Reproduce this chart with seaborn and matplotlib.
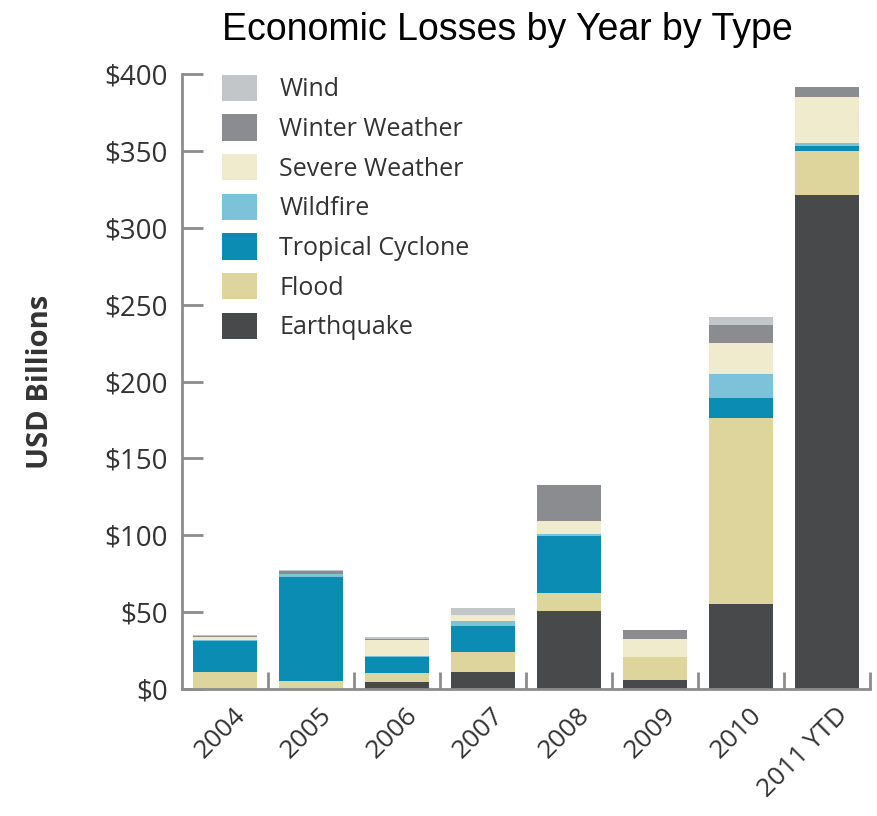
import matplotlib
matplotlib.use("Agg")
import matplotlib.pyplot as plt
from matplotlib.patches import Patch
from matplotlib.ticker import FixedLocator, FuncFormatter
import matplotlib.transforms as mtransforms
import numpy as np
import pandas as pd
import seaborn as sns

years = ['2004', '2005', '2006', '2007', '2008', '2009', '2010', '2011 YTD']
earthquake = [0, 0, 4.5, 11, 51, 6, 55, 321]
flood = [11, 5, 6, 13, 11.5, 15, 121, 29]
tropical_cyclone = [20, 68, 10.5, 17, 37, 0, 13, 3]
wildfire = [1, 1.5, 0.5, 3, 1, 0, 16, 2]
severe_weather = [2, 0.5, 10.5, 4, 9, 11.5, 20, 30]
winter_weather = [0.5, 2, 0.5, 0, 23.5, 6, 11.5, 6.5]
wind = [0.5, 0.5, 1.5, 5, 0, 0, 5.5, 0]

series_names = ['Earthquake', 'Flood', 'Tropical Cyclone', 'Wildfire',
                'Severe Weather', 'Winter Weather', 'Wind']
series_values = [earthquake, flood, tropical_cyclone, wildfire,
                 severe_weather, winter_weather, wind]
colors = {
    'Earthquake': '#48494b',
    'Flood': '#ddd59b',
    'Tropical Cyclone': '#0b8cb3',
    'Wildfire': '#7cc3d9',
    'Severe Weather': '#efebcc',
    'Winter Weather': '#8a8c8f',
    'Wind': '#c3c6c8',
}
y_ticks = [0, 50, 100, 150, 200, 250, 300, 350, 400]

df = pd.DataFrame({'Year': years})
for name, vals in zip(series_names, series_values):
    df[name] = vals
cum = df[series_names].cumsum(axis=1)

sns.set_style('white')
plt.rcParams['font.family'] = ['Open Sans', 'DejaVu Sans']

fig = plt.figure(figsize=(8.78, 8.16), dpi=100)
ax = fig.add_axes([182/878, (816-689)/816, (870-182)/878, (689-74)/816])

# draw cumulative bars from top layer down so lower layers overlap
for name in reversed(series_names):
    sns.barplot(x=df['Year'], y=cum[name], color=colors[name], saturation=1,
                width=0.74, errorbar=None, linewidth=0, ax=ax)

ax.set_xlim(-0.5, 7.5)
ax.set_ylim(0, 400)
ax.set_xlabel('')
ax.set_ylabel('USD Billions', fontsize=21, fontweight='bold', color='#333333', labelpad=36)

ax.yaxis.set_major_locator(FixedLocator(y_ticks))
ax.yaxis.set_major_formatter(FuncFormatter(lambda v, p: f'${int(v)}'))
ax.tick_params(axis='y', direction='in', length=15, width=2, color='#8c8c8c',
               labelsize=20, labelcolor='#333333', pad=10, left=True)

ax.set_xticks(range(len(years)))
ax.set_xticklabels(years, rotation=45, ha='right', rotation_mode='anchor')
ax.tick_params(axis='x', which='major', length=0, labelsize=19, labelcolor='#333333', pad=10)
ax.xaxis.set_minor_locator(FixedLocator(np.arange(0.5, len(years), 1.0)))
ax.tick_params(axis='x', which='minor', direction='in', length=12, width=2,
               color='#8c8c8c', bottom=True)
for lbl in ax.get_xticklabels():
    lbl.set_transform(lbl.get_transform() + mtransforms.ScaledTranslation(0.08, 0, fig.dpi_scale_trans))

for s in ['top', 'right']:
    ax.spines[s].set_visible(False)
for s in ['left', 'bottom']:
    ax.spines[s].set_color('#8c8c8c')
    ax.spines[s].set_linewidth(2)

legend_order = ['Wind', 'Winter Weather', 'Severe Weather', 'Wildfire',
                'Tropical Cyclone', 'Flood', 'Earthquake']
handles = [Patch(facecolor=colors[n], edgecolor='none', label=n) for n in legend_order]
leg = ax.legend(handles=handles, loc='upper left', bbox_to_anchor=(0.0435, 1.015),
                frameon=False, fontsize=18, handlelength=1.4, handleheight=1.25,
                handletextpad=0.9, labelspacing=0.48, borderaxespad=0)
for t in leg.get_texts():
    t.set_color('#333333')

fig.text(507/878, 1 - 30/816, 'Economic Losses by Year by Type', ha='center', va='center',
         fontsize=27, family='Liberation Sans', color='black')

fig.savefig('out.png', dpi=100, facecolor='white')
